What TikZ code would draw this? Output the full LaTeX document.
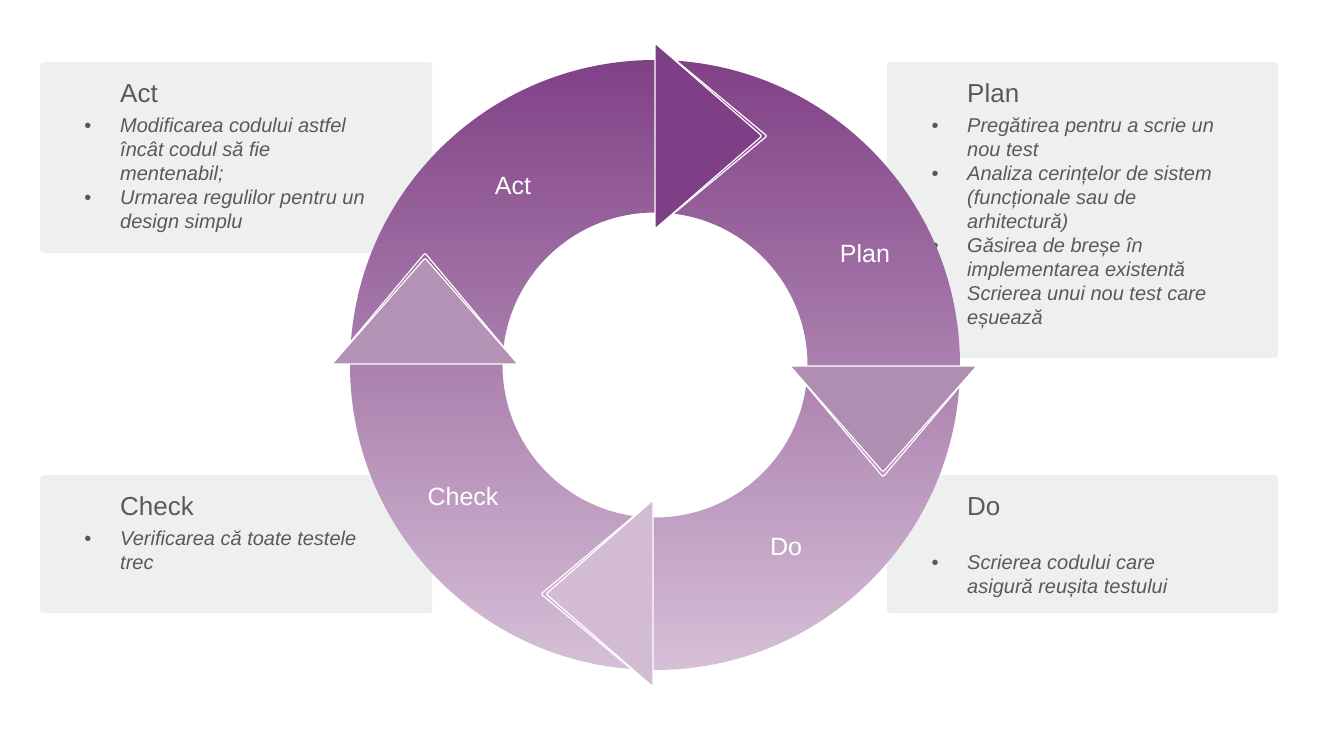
\documentclass[tikz,border=0pt]{standalone}
\usepackage{fontspec}
\setmainfont{Liberation Sans}
\definecolor{boxgray}{RGB}{238,240,239}
\definecolor{textgray}{RGB}{89,89,89}
\definecolor{ringtop}{RGB}{128,64,134}
\definecolor{ringmid}{RGB}{178,143,180}
\definecolor{ringbot}{RGB}{214,192,215}
\definecolor{planarrow}{RGB}{127,63,134}
\definecolor{doarrow}{RGB}{176,141,179}
\definecolor{checkarrow}{RGB}{211,188,211}
\definecolor{actarrow}{RGB}{179,146,181}
\begin{document}
\begin{tikzpicture}[x=1pt, y=-1pt,
  infobox/.style={fill=boxgray, rounded corners=3pt, inner sep=0pt, anchor=north west},
  title/.style={anchor=base west, inner sep=0pt, text=textgray, font=\fontsize{26}{30}\selectfont},
  item/.style={anchor=base west, inner sep=0pt, text=textgray, font=\fontsize{20}{24}\selectfont\itshape},
  dot/.style={anchor=base, inner sep=0pt, text=textgray, font=\fontsize{20}{24}\selectfont},
  phase/.style={text=white, inner sep=0pt, font=\fontsize{25}{30}\selectfont},
  rim/.style={draw=white, line width=1.2pt, rounded corners=2pt}]
\useasboundingbox (0,0) rectangle (1320,731);
\fill[white] (0,0) rectangle (1320,731);

% text boxes
\node[infobox, minimum width=392pt, minimum height=191pt](actbox) at (40,62) {};
\node[infobox, minimum width=391pt, minimum height=296pt](planbox) at (887,62) {};
\node[infobox, minimum width=392pt, minimum height=138pt](checkbox) at (40,475) {};
\node[infobox, minimum width=391pt, minimum height=138pt](dobox) at (887,475) {};

\node[title](acttitle) at (120,102) {Act};
\node[dot](actdot1) at (88,132) {•};
\node[item](act1) at (120,132) {Modificarea codului astfel};
\node[item](act2) at (120,156) {încât codul să fie};
\node[item](act3) at (120,180) {mentenabil;};
\node[dot](actdot2) at (88,204) {•};
\node[item](act4) at (120,204) {Urmarea regulilor pentru un};
\node[item](act5) at (120,228) {design simplu};

\node[title](plantitle) at (967,102) {Plan};
\node[dot](plandot1) at (935,132) {•};
\node[item](plan1) at (967,132) {Pregătirea pentru a scrie un};
\node[item](plan2) at (967,156) {nou test};
\node[dot](plandot2) at (935,180) {•};
\node[item](plan3) at (967,180) {Analiza cerințelor de sistem};
\node[item](plan4) at (967,204) {(funcționale sau de};
\node[item](plan5) at (967,228) {arhitectură)};
\node[dot](plandot3) at (935,252) {•};
\node[item](plan6) at (967,252) {Găsirea de breșe în};
\node[item](plan7) at (967,276) {implementarea existentă};
\node[item](plan8) at (967,300) {Scrierea unui nou test care};
\node[item](plan9) at (967,324) {eșuează};

\node[title](checktitle) at (120,515) {Check};
\node[dot](checkdot1) at (88,545) {•};
\node[item](check1) at (120,545) {Verificarea că toate testele};
\node[item](check2) at (120,569) {trec};

\node[title](dotitle) at (967,515) {Do};
\node[dot](dodot1) at (935,569) {•};
\node[item](do1) at (967,569) {Scrierea codului care};
\node[item](do2) at (967,593) {asigură reușita testului};

% ring
\coordinate (hub) at (655,365);
\shade[top color=ringtop, middle color=ringmid, bottom color=ringbot, even odd rule]
  (hub) circle[radius=305pt] (hub) circle[radius=152.5pt];

% arrow heads
\filldraw[fill=planarrow, rim] (655,43) -- (762,136) -- (655,229) -- cycle;
\draw[rim] (655,43) -- (767,136) -- (655,229);
\filldraw[fill=doarrow, rim] (790,366) -- (883,472) -- (977,366) -- cycle;
\draw[rim] (790,366) -- (883,477) -- (977,366);
\filldraw[fill=checkarrow, rim] (653,500) -- (546,594) -- (653,687) -- cycle;
\draw[rim] (653,500) -- (541,594) -- (653,687);
\filldraw[fill=actarrow, rim] (332,364) -- (425,258) -- (518,364) -- cycle;
\draw[rim] (332,364) -- (425,253) -- (518,364);

\node[phase](actlabel) at (513,186) {Act};
\node[phase](planlabel) at (865,254) {Plan};
\node[phase](dolabel) at (786,547) {Do};
\node[phase](checklabel) at (463,497) {Check};

\end{tikzpicture}
\end{document}
